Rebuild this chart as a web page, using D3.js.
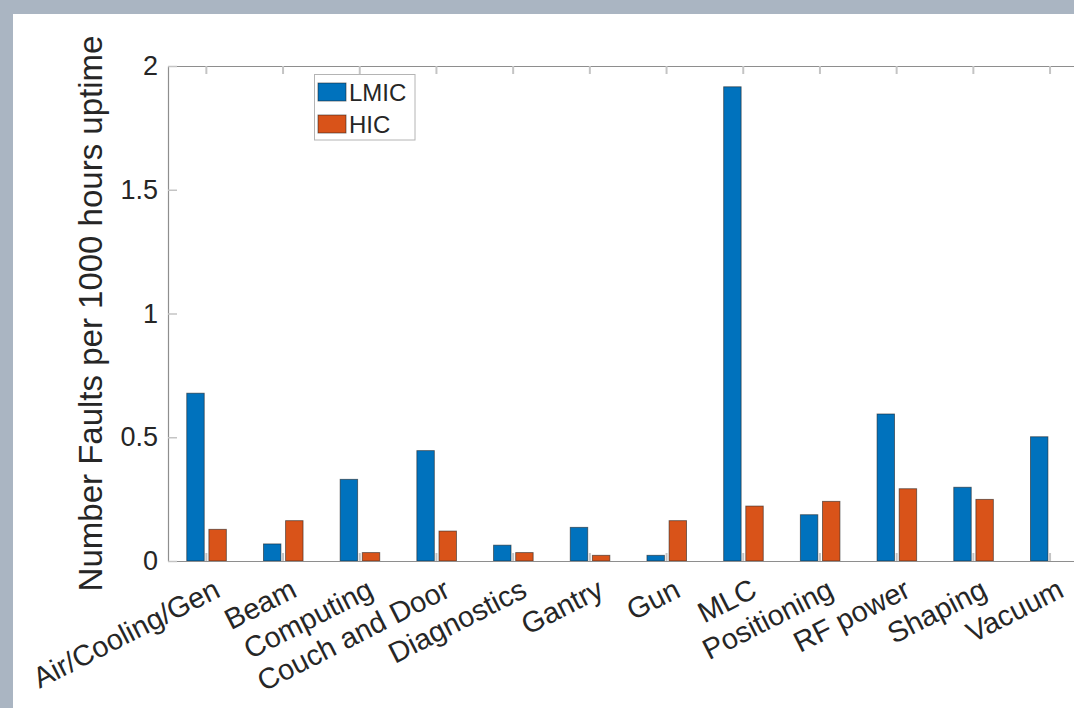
<!DOCTYPE html>
<html>
<head>
<meta charset="utf-8">
<script src="https://cdn.jsdelivr.net/npm/d3@7"></script>
<style>
  html, body { margin: 0; padding: 0; background: #aab5c2; overflow: hidden; }
  svg { display: block; }
  text { font-family: "Liberation Sans", Arial, Helvetica, sans-serif; fill: #262626; }
</style>
</head>
<body>
<svg id="chart" width="1074" height="708"></svg>
<script>
// Fault rates per 1000 hours of uptime, by subsystem
const categories = ["Air/Cooling/Gen", "Beam", "Computing", "Couch and Door", "Diagnostics",
  "Gantry", "Gun", "MLC", "Positioning", "RF power", "Shaping", "Vacuum"];
const seriesNames = ["LMIC", "HIC"];
const lmicValues = [0.678, 0.069, 0.330, 0.446, 0.064, 0.136, 0.023, 1.916, 0.187, 0.594, 0.298, 0.502];
const hicValues  = [0.128, 0.163, 0.034, 0.121, 0.034, 0.023, 0.163, 0.222, 0.241, 0.292, 0.249, 0.0];
const yTicks = [0, 0.5, 1, 1.5, 2];
const yLabel = "Number Faults per 1000 hours uptime";
const colors = ["#0072BD", "#D95319"];

const svg = d3.select("#chart");

// white figure panel
svg.append("rect").attr("x", 13).attr("y", 14).attr("width", 1074).attr("height", 708).attr("fill", "#ffffff");

const plot = { left: 168, top: 66, bottom: 561, step: 76.7 };
const plotRight = plot.left + plot.step * categories.length;

const x0 = d3.scaleBand().domain(categories).range([plot.left, plotRight]).padding(0);
const x1 = d3.scaleBand().domain(seriesNames)
  .range([x0.bandwidth() * 0.2445, x0.bandwidth() * 0.7608]).paddingInner(0.21).paddingOuter(0);
const y = d3.scaleLinear().domain([0, 2]).range([plot.bottom, plot.top]);

const rows = categories.map((c, i) => ({ cat: c, vals: [lmicValues[i], hicValues[i]] }));

// bars
const groups = svg.append("g").selectAll("g").data(rows).join("g")
  .attr("transform", d => `translate(${x0(d.cat)},0)`);
groups.selectAll("rect").data(d => d.vals.map((v, k) => ({ v, k }))).join("rect")
  .attr("x", d => x1(seriesNames[d.k]))
  .attr("width", x1.bandwidth())
  .attr("y", d => y(d.v))
  .attr("height", d => y(0) - y(d.v))
  .attr("fill", d => colors[d.k])
  .attr("stroke", "rgba(30,30,30,0.6)")
  .attr("stroke-width", 0.9)
  .style("display", d => d.v > 0 ? null : "none");

const axisColor = "#8e8e8e";
const tickColor = "#c4c4c4";
const tickLen = 8;

// bottom axis (ticks point inward)
const xBottom = d3.axisBottom(x0).tickSizeInner(-tickLen).tickSizeOuter(0).tickFormat("");
const gxb = svg.append("g").attr("transform", `translate(0,${plot.bottom})`).call(xBottom);
gxb.select(".domain").attr("stroke", axisColor).attr("stroke-width", 1.2);
gxb.selectAll(".tick line").attr("stroke", tickColor).attr("stroke-width", 2);

// top axis
const xTop = d3.axisTop(x0).tickSizeInner(-tickLen).tickSizeOuter(0).tickFormat("");
const gxt = svg.append("g").attr("transform", `translate(0,${plot.top})`).call(xTop);
gxt.select(".domain").attr("stroke", axisColor).attr("stroke-width", 1.2);
gxt.selectAll(".tick line").attr("stroke", tickColor).attr("stroke-width", 2);

// rotated category labels
svg.append("g").selectAll("text").data(categories).join("text")
  .attr("transform", c => `translate(${x0(c) + x0.bandwidth() / 2 + 12},${plot.bottom + 28}) rotate(-27)`)
  .attr("text-anchor", "end")
  .attr("dominant-baseline", "middle")
  .style("font-size", "29px")
  .text(c => c);

// left axis
const yAxis = d3.axisLeft(y).tickValues(yTicks).tickSizeInner(-9).tickSizeOuter(0)
  .tickPadding(10).tickFormat(d3.format("~g"));
const gy = svg.append("g").attr("transform", `translate(${plot.left},0)`).call(yAxis);
gy.select(".domain").attr("stroke", axisColor).attr("stroke-width", 1.2);
gy.selectAll(".tick line").attr("stroke", tickColor).attr("stroke-width", 1.5);
gy.selectAll(".tick text").style("font-size", "27px").attr("fill", "#262626")
  .attr("font-family", "Liberation Sans, Arial, sans-serif");

// y label
svg.append("text")
  .attr("transform", `translate(102,${(plot.top + plot.bottom) / 2}) rotate(-90)`)
  .attr("text-anchor", "middle")
  .style("font-size", "33px")
  .text(yLabel);

// legend
const legend = svg.append("g");
legend.append("rect").attr("x", 314.5).attr("y", 74.5).attr("width", 100.5).attr("height", 65.5)
  .attr("fill", "#fff").attr("stroke", "#b4b4b4").attr("stroke-width", 1);
seriesNames.forEach((name, k) => {
  const cy = 92 + k * 32;
  legend.append("rect").attr("x", 318).attr("y", cy - 9).attr("width", 28).attr("height", 18)
    .attr("fill", colors[k]).attr("stroke", "rgba(30,30,30,0.6)").attr("stroke-width", 0.9);
  legend.append("text").attr("x", 349).attr("y", cy).attr("dominant-baseline", "central")
    .style("font-size", "24px").text(name);
});
</script>
</body>
</html>
